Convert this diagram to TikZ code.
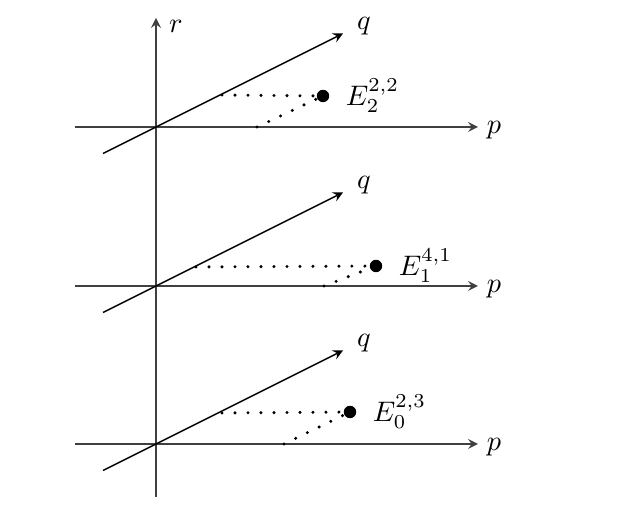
\documentclass[tikz,border=0pt]{standalone}
\usepackage{amsmath,amssymb}
\usetikzlibrary{arrows,positioning}
\tikzset{>=stealth}
\tikzset{axis/.style={->,line width=0.55pt,black!75},
  qaxis/.style={->,line width=0.55pt},
  dots/.style={line width=1.2pt,line cap=round,dash pattern=on 0pt off 4.6pt},
  bigdot/.style={circle,fill,inner sep=0pt,minimum size=4.4pt}}

\begin{document}
\begin{tikzpicture}[x=0.354pt,y=-0.354pt]
\useasboundingbox (0,0) rectangle (644,523);
% the r axis
\coordinate (rb) at (156,497);
\coordinate (rt) at (156,18);
\draw[axis] (rb)--(rt);
\node (rlab) at (176,26) {$r$};
% three (p,q) planes
\foreach \y/\n in {127/2,286/1,444/0} {
\coordinate (pl\n) at (75,\y);
\coordinate (pr\n) at (478,\y);
\coordinate (ql\n) at (103,\y+26.5);
\coordinate (qr\n) at (343,\y-93.5);
\draw[axis] (pl\n)--(pr\n);
\draw[qaxis] (ql\n)--(qr\n);
\node (plab\n) at (494,\y+3) {$p$};
\node (qlab\n) at (364,\y-101) {$q$};
};
% E_2^{2,2}
\node[bigdot] (E2) at (323,96) {};
\coordinate (h2) at (222,95);
\coordinate (d2) at (257,127);
\draw[dots] (h2)--(E2);
\draw[dots] (d2)--(E2);
\node[right=2.2pt of E2] (lab2) {$E_2^{2,2}$};
% E_1^{4,1}
\node[bigdot] (E1) at (376,266) {};
\coordinate (h1) at (196,267);
\coordinate (d1) at (324,286);
\draw[dots] (h1)--(E1);
\draw[dots] (d1)--(E1);
\node[right=2.2pt of E1] (lab1) {$E_1^{4,1}$};
% E_0^{2,3}
\node[bigdot] (E0) at (350,412) {};
\coordinate (h0) at (222,413);
\coordinate (d0) at (284,444);
\draw[dots] (h0)--(E0);
\draw[dots] (d0)--(E0);
\node[right=2.2pt of E0] (lab0) {$E_0^{2,3}$};
\end{tikzpicture}
\end{document}
